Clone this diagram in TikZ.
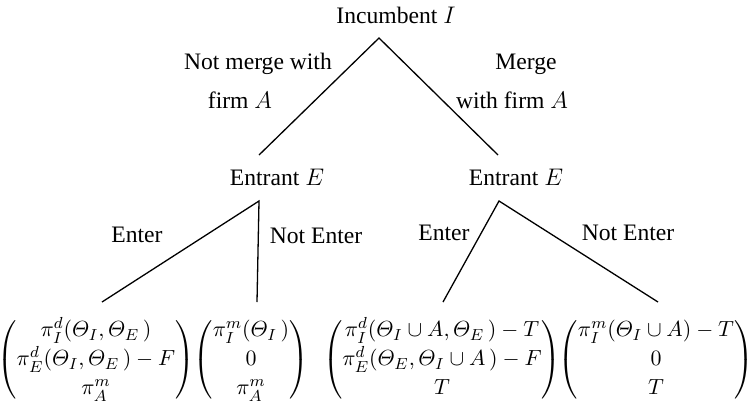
\documentclass[tikz,border=0pt]{standalone}
\usepackage{amsmath}
\usepackage[no-math]{fontspec}
\setmainfont{Liberation Serif}
\usetikzlibrary{positioning}
\setlength{\arraycolsep}{1.5pt}

\begin{document}
\begin{tikzpicture}[x=0.5pt,y=-0.5pt,
who/.style={font=\fontsize{11.8}{15}\selectfont,inner sep=0pt,anchor=base},
lab/.style={font=\fontsize{11.8}{15}\selectfont,inner sep=0pt,anchor=base},
pay/.style={font=\fontsize{11}{14.5}\selectfont,inner sep=0pt},
br/.style={line width=.65pt}]
\useasboundingbox (0,0) rectangle (754,408);
% players
\node[who] (inc) at (396,23) {Incumbent $I$};
\node[who] (e1) at (277,185) {Entrant $E$};
\node[who] (e2) at (516,185) {Entrant $E$};
% branch points
\coordinate (r) at (379,38);
\coordinate (a) at (259,155);
\coordinate (b) at (498,155);
\coordinate (a0) at (259,201);
\coordinate (b0) at (499,201);
\coordinate (c) at (102,302);
\coordinate (d) at (257,302);
\coordinate (f) at (443,302);
\coordinate (g) at (658,302);
% payoffs
\node[pay] (v1) at (96,360) {$\begin{pmatrix}\pi_I^d(\varTheta_I,\varTheta_E\,)\\ \pi_E^d(\varTheta_I,\varTheta_E\,)-F\\ \pi_A^m\end{pmatrix}$};
\node[pay] (v2) at (251,360) {$\begin{pmatrix}\pi_I^m(\varTheta_I\,)\\ 0\\ \pi_A^m\end{pmatrix}$};
\node[pay] (v3) at (442,360) {$\begin{pmatrix}\pi_I^d(\varTheta_I\cup A,\varTheta_E\,)-T\\ \pi_E^d(\varTheta_E,\varTheta_I\cup A\,)-F\\ T\end{pmatrix}$};
\node[pay] (v4) at (656,360) {$\begin{pmatrix}\pi_I^m(\varTheta_I\cup A)-T\\ 0\\ T\end{pmatrix}$};
% edges
\draw[br] (a)--(r)--(b);
\draw[br] (c)--(a0)--(d);
\draw[br] (f)--(b0)--(g);
% action labels
\node[lab] (l1) at (258,69) {Not merge with};
\node[lab] (l2) at (240,108) {firm $A$};
\node[lab] (l3) at (526,69) {Merge};
\node[lab] (l4) at (512,108) {with firm $A$};
\node[lab] (l5) at (137,242) {Enter};
\node[lab] (l6) at (316,243) {Not Enter};
\node[lab] (l7) at (444,240) {Enter};
\node[lab] (l8) at (628,240) {Not Enter};
\end{tikzpicture}
\end{document}
